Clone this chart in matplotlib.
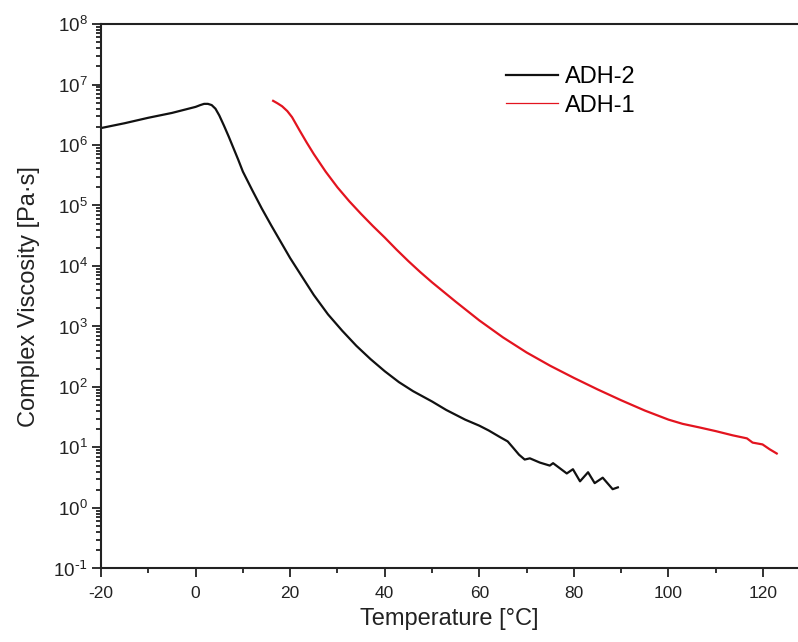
import matplotlib
matplotlib.use('Agg')
import matplotlib.pyplot as plt
from matplotlib.ticker import LogLocator, FuncFormatter, MultipleLocator, NullFormatter
from matplotlib.lines import Line2D
import numpy as np

plt.rcParams['font.family'] = ['Liberation Sans', 'DejaVu Sans']
plt.rcParams['mathtext.default'] = 'regular'
plt.rcParams['axes.unicode_minus'] = False

# ADH-2 (black): temperature [°C] and log10 of complex viscosity [Pa·s]
adh2_temp = [-20, -15, -10, -5, -2, 0, 1, 1.8, 2.6, 3.4, 4.2, 5, 6, 7, 8, 9, 10, 12,
             14, 16, 18, 20, 22.7, 25, 28, 31, 34, 37, 40, 43, 46, 50, 53, 55, 57,
             60, 62, 64.4, 66, 67.1, 68.4, 69.6, 70.7, 72.8, 74.9, 75.6, 78.5, 79.8,
             81.3, 83.0, 84.4, 86.1, 88.2, 89.3]
adh2_logv = [6.28, 6.36, 6.45, 6.53, 6.59, 6.63, 6.66, 6.68, 6.68, 6.66, 6.60, 6.49,
             6.32, 6.14, 5.95, 5.76, 5.56, 5.25, 4.95, 4.67, 4.40, 4.13, 3.80, 3.52,
             3.20, 2.93, 2.68, 2.46, 2.26, 2.08, 1.93, 1.76, 1.62, 1.54, 1.46, 1.36,
             1.28, 1.17, 1.10, 1.00, 0.88, 0.80, 0.82, 0.75, 0.70, 0.74, 0.57, 0.64,
             0.44, 0.59, 0.41, 0.50, 0.31, 0.34]

# ADH-1 (red)
adh1_temp = [16.4, 17.3, 18.3, 19.4, 20.4, 22, 23.5, 25, 27.5, 30, 32.5, 35, 37.5, 40,
             42.5, 45, 47.5, 50, 55, 60, 65, 70, 75, 80, 85, 90, 95, 100, 103, 106.6,
             110, 113.6, 116.6, 117.8, 119.9, 121.4, 122.9]
adh1_logv = [6.73, 6.69, 6.64, 6.56, 6.46, 6.24, 6.04, 5.85, 5.56, 5.30, 5.07, 4.86,
             4.66, 4.47, 4.27, 4.08, 3.90, 3.73, 3.41, 3.10, 2.82, 2.57, 2.35, 2.15,
             1.96, 1.78, 1.61, 1.46, 1.39, 1.33, 1.27, 1.20, 1.15, 1.08, 1.05, 0.97,
             0.90]

adh2_visc = [10 ** v for v in adh2_logv]
adh1_visc = [10 ** v for v in adh1_logv]

black = '#111111'
red = '#e3141f'
axcol = '#222222'


def pow10(v, pos):
    e = int(round(np.log10(v)))
    if e < 0:
        return r'$10^{\text{%d}}$' % e
    return r'$10^{%d}$' % e


fig = plt.figure(figsize=(7.98, 6.42), dpi=100)
ax = fig.add_axes([0.1266, 0.1146, 0.8734, 0.848])

ax.plot(adh2_temp, adh2_visc, color=black, lw=1.6)
ax.plot(adh1_temp, adh1_visc, color=red, lw=1.6)

ax.set_yscale('log')
ax.set_xlim(-20, 127.4)
ax.set_ylim(1e-1, 1e8)

ax.xaxis.set_major_locator(MultipleLocator(20))
ax.xaxis.set_minor_locator(MultipleLocator(10))
ax.yaxis.set_major_locator(LogLocator(base=10, numticks=20))
ax.yaxis.set_minor_locator(LogLocator(base=10, subs=range(2, 10), numticks=20))
ax.yaxis.set_major_formatter(FuncFormatter(pow10))
ax.yaxis.set_minor_formatter(NullFormatter())

ax.tick_params(which='both', direction='out', width=1.3, colors=axcol)
ax.tick_params(which='major', length=6.5)
ax.tick_params(which='minor', length=3.5)
ax.tick_params(axis='x', labelsize=12.5, pad=6)
ax.tick_params(axis='y', labelsize=13.5, pad=3)

ax.spines['right'].set_visible(False)
for s in ['left', 'bottom', 'top']:
    ax.spines[s].set_linewidth(1.5)
    ax.spines[s].set_color(axcol)

ax.set_xlabel('Temperature [°C]', fontsize=17, color=axcol, labelpad=5)
ax.set_ylabel('Complex Viscosity [Pa·s]', fontsize=17, color=axcol, labelpad=9)

handles = [Line2D([], [], color=black, lw=1.6), Line2D([], [], color=red, lw=0.9)]
ax.legend(handles, ['ADH-2', 'ADH-1'], loc='upper left', bbox_to_anchor=(0.55, 0.962),
          frameon=False, fontsize=17, handlelength=2.2, handletextpad=0.3,
          labelspacing=0.28)

plt.savefig('out.png', dpi=100)
